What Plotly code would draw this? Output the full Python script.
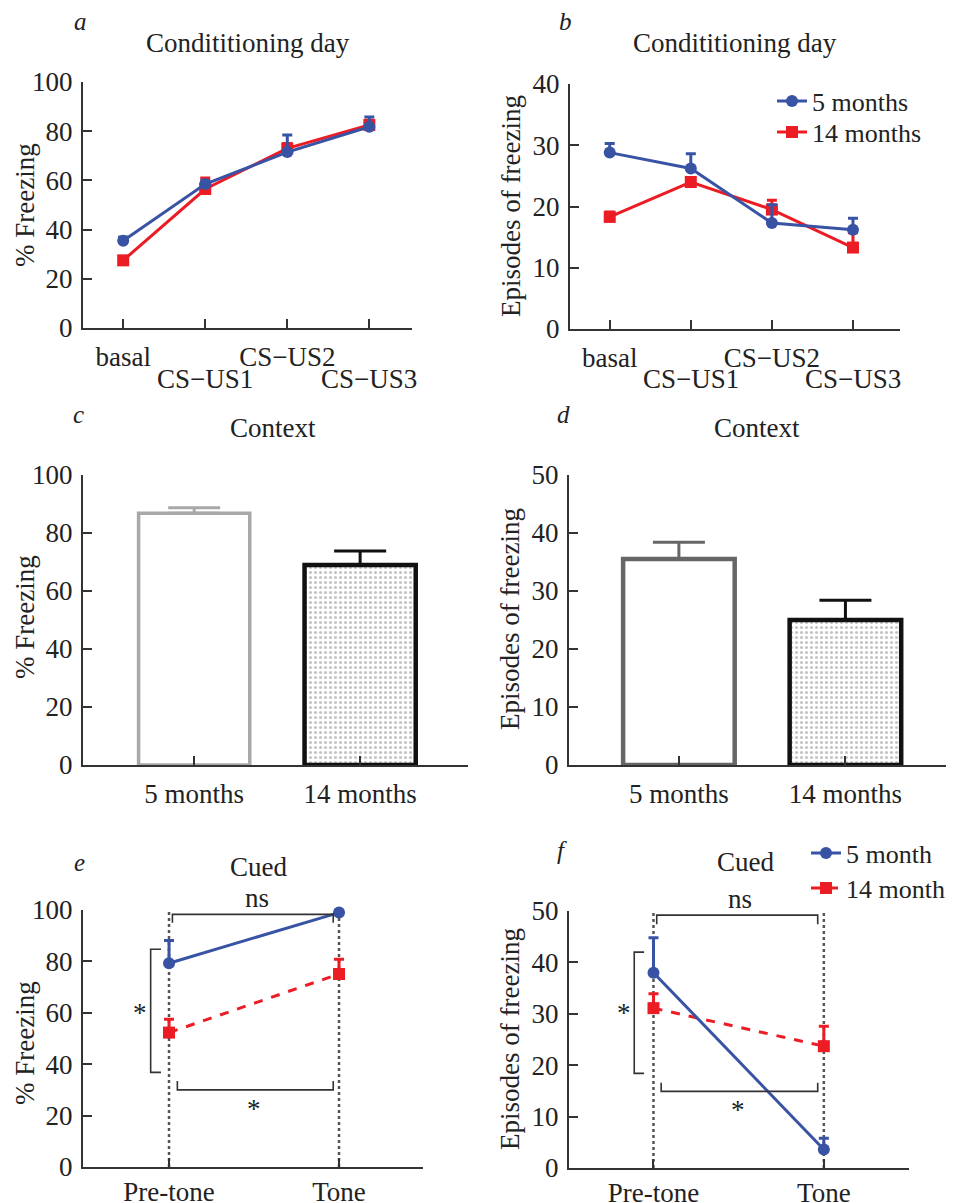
import plotly.graph_objects as go

W, H = 954, 1203          # reference canvas
OFF = 8                   # page body margin in the browser
FW, FH = W - OFF, H - OFF # figure size so it fits in the window
FONT = "Liberation Serif"
TXT = "#222222"
AX = "#333333"
BLUE = "#3953A4"
RED = "#EC1C24"

# ---------------- data ----------------
cond_cats = ["basal", "CS−US1", "CS−US2", "CS−US3"]
pct_5m = [35.5, 58.5, 71.5, 81.8]
pct_5m_err = [1.5, 1.5, 7.0, 4.0]
pct_14m = [27.5, 56.5, 73.0, 82.5]
pct_14m_err = [1.5, 4.5, 2.0, 2.0]
ep_5m = [28.8, 26.2, 17.3, 16.2]
ep_5m_err = [1.5, 2.4, 3.0, 1.9]
ep_14m = [18.3, 24.0, 19.5, 13.3]
ep_14m_err = [0.8, 0.5, 1.5, 2.4]

ctx_groups = ["5 months", "14 months"]
ctx_pct = [86.8, 69.0]
ctx_pct_err = [1.9, 4.8]
ctx_ep = [35.5, 25.0]
ctx_ep_err = [2.9, 3.4]

cued_cats = ["Pre-tone", "Tone"]
cued_pct_5m = [79.3, 99.0]
cued_pct_5m_err = [8.8, 0.0]
cued_pct_14m = [52.3, 75.1]
cued_pct_14m_err = [5.2, 5.7]
cued_ep_5m = [38.0, 3.6]
cued_ep_5m_err = [6.8, 2.2]
cued_ep_14m = [31.1, 23.7]
cued_ep_14m_err = [2.8, 3.9]


def px(x):
    return (x - OFF) / FW


def py(y):
    return 1 - (y - OFF) / FH


def err(vals, color, width=5):
    return dict(type="data", array=vals, arrayminus=[0] * len(vals), symmetric=False,
                color=color, thickness=3, width=width)


fig = go.Figure()


def line_trace(x, y, e, color, symbol, name, xa, ya, dash="solid", legend=None):
    fig.add_trace(go.Scatter(
        x=x, y=y, mode="lines+markers", name=name,
        line=dict(color=color, width=3, dash=dash),
        marker=dict(color=color, size=12, symbol=symbol),
        error_y=err(e, color), xaxis=xa, yaxis=ya,
        showlegend=legend is not None, legend=legend if legend else "legend",
        cliponaxis=False))


# Panel a
line_trace(cond_cats, pct_14m, pct_14m_err, RED, "square", "14 months", "x", "y")
line_trace(cond_cats, pct_5m, pct_5m_err, BLUE, "circle", "5 months", "x", "y")
# Panel b
line_trace(cond_cats, ep_14m, ep_14m_err, RED, "square", "14 months", "x2", "y2", legend="legend3")
line_trace(cond_cats, ep_5m, ep_5m_err, BLUE, "circle", "5 months", "x2", "y2", legend="legend")

# Panels c, d (bars)
bar_styles_c = [
    dict(line="#A8A8A8", lw=3.5, shape=""),
    dict(line="#111111", lw=4.5, shape="."),
]
bar_styles_d = [
    dict(line="#666666", lw=4.5, shape=""),
    dict(line="#111111", lw=4.5, shape="."),
]
for vals, errs, xa, ya, styles in [(ctx_pct, ctx_pct_err, "x3", "y3", bar_styles_c),
                                   (ctx_ep, ctx_ep_err, "x4", "y4", bar_styles_d)]:
    for i, g in enumerate(ctx_groups):
        st = styles[i]
        fig.add_trace(go.Bar(
            x=[g], y=[vals[i]], width=0.67, xaxis=xa, yaxis=ya, showlegend=False,
            marker=dict(color="white", line=dict(color=st["line"], width=st["lw"]),
                        pattern=dict(shape=st["shape"], fgcolor="#888888", bgcolor="white",
                                     size=5, solidity=0.3)),
            error_y=dict(type="data", array=[errs[i]], arrayminus=[0], symmetric=False,
                         color=st["line"], thickness=3, width=26)))

# Panel e
line_trace(cued_cats, cued_pct_14m, cued_pct_14m_err, RED, "square", "14 month", "x5", "y5", dash="dash")
line_trace(cued_cats, cued_pct_5m, cued_pct_5m_err, BLUE, "circle", "5 month", "x5", "y5")
# Panel f
line_trace(cued_cats, cued_ep_14m, cued_ep_14m_err, RED, "square", "14 month", "x6", "y6",
           dash="dash", legend="legend4")
line_trace(cued_cats, cued_ep_5m, cued_ep_5m_err, BLUE, "circle", "5 month", "x6", "y6",
           legend="legend2")

# ---------------- axes ----------------
TS = 27
tickfont = dict(family=FONT, size=TS, color=TXT)


def xax(dom, rng, anchor, standoff=4, **kw):
    d = dict(domain=[px(dom[0]), px(dom[1])], range=rng, anchor=anchor, showline=True,
             linecolor=AX, linewidth=2, ticks="inside", ticklen=9, tickwidth=2, tickcolor=AX,
             showgrid=False, zeroline=False, tickfont=tickfont, ticklabelstandoff=standoff,
             type="category", automargin=False)
    d.update(kw)
    return d


def yax(dom, rng, dtick, anchor):
    return dict(domain=[py(dom[1]), py(dom[0])], range=rng, dtick=dtick, anchor=anchor,
                showline=True, linecolor=AX, linewidth=2, ticks="inside", ticklen=9,
                tickwidth=2, tickcolor=AX, showgrid=False, zeroline=False,
                tickfont=tickfont, ticklabelstandoff=3, automargin=False)


def leg(x, y):
    return dict(x=px(x), y=py(y), xanchor="left", yanchor="middle",
                font=dict(family=FONT, size=26, color=TXT), bgcolor="rgba(0,0,0,0)",
                itemwidth=30, tracegroupgap=0)


cond_ticktext = [cond_cats[0], "", cond_cats[2], ""]

fig.update_layout(
    width=FW, height=FH, margin=dict(l=0, r=0, t=0, b=0, autoexpand=False),
    paper_bgcolor="white", plot_bgcolor="rgba(0,0,0,0)",
    barmode="overlay",
    font=dict(family=FONT, color=TXT),
    xaxis=xax((83, 412), [-0.49, 3.52], "y", tickvals=cond_cats, ticktext=cond_ticktext),
    yaxis=yax((82, 328), [0, 100], 20, "x"),
    xaxis2=xax((570, 900), [-0.49, 3.58], "y2", tickvals=cond_cats, ticktext=cond_ticktext),
    yaxis2=yax((84, 329), [0, 40], 10, "x2"),
    xaxis3=xax((83, 468), [-0.67, 1.65], "y3"),
    yaxis3=yax((475, 765), [0, 100], 20, "x3"),
    xaxis4=xax((569, 952), [-0.66, 1.64], "y4"),
    yaxis4=yax((475, 765), [0, 50], 10, "x4"),
    xaxis5=xax((83, 423), [-0.506, 1.494], "y5", standoff=0),
    yaxis5=yax((910, 1167), [0, 100], 20, "x5"),
    xaxis6=xax((569, 909), [-0.496, 1.5], "y6", standoff=0),
    yaxis6=yax((911, 1168), [0, 50], 10, "x6"),
    legend=leg(772, 101),
    legend3=leg(772, 132),
    legend2=leg(806, 853),
    legend4=leg(806, 888),
)

# ---------------- text annotations ----------------
ann = []


def text(x, y, s, size=27, angle=0, italic=False):
    ann.append(dict(x=px(x), y=py(y), xref="paper", yref="paper", text=f"<i>{s}</i>" if italic else s,
                    showarrow=False, xanchor="center", yanchor="middle", textangle=angle,
                    font=dict(family=FONT, size=size, color=TXT)))


# panel letters
for lx, ly, l in [(80, 22, "a"), (565, 22, "b"), (78, 415, "c"), (563, 415, "d"), (79, 862, "e"), (562, 850, "f")]:
    text(lx, ly, l, size=25, italic=True)
# panel titles
text(248, 43, "Condititioning day")
text(735, 43, "Condititioning day")
text(273, 428, "Context")
text(757, 428, "Context")
text(258, 867, "Cued")
text(745, 862, "Cued")
# y-axis titles
text(25, 205, "% Freezing", angle=-90)
text(511, 206, "Episodes of freezing", angle=-90)
text(25, 617, "% Freezing", angle=-90)
text(510, 619, "Episodes of freezing", angle=-90)
text(25, 1043, "% Freezing", angle=-90)
text(510, 1039, "Episodes of freezing", angle=-90)
# "ns" labels above the brackets
text(257, 898, "ns", size=TS)
text(740, 899, "ns", size=TS)

# staggered second-row category labels (panels a, b)
for xa in ("x", "x2"):
    for i in (1, 3):
        ann.append(dict(x=cond_cats[i], y=py(379), xref=xa, yref="paper", text=cond_cats[i],
                        showarrow=False, xanchor="center", yanchor="middle",
                        font=dict(family=FONT, size=TS, color=TXT)))

# significance stars (panels e, f)
for xa, ya, items in [
    ("x5", "y5", [(-0.17, 60, "*"), (0.5, 22.6, "*")]),
    ("x6", "y6", [(-0.176, 30.1, "*"), (0.494, 11.2, "*")]),
]:
    for x, y, s in items:
        ann.append(dict(x=x, y=y, xref=xa, yref=ya, text=s, showarrow=False,
                        xanchor="center", yanchor="middle",
                        font=dict(family=FONT, size=TS, color=TXT)))
fig.update_layout(annotations=ann)

# ---------------- shapes: dotted guides and brackets ----------------
shapes = []
for xa, ya, top in [("x5", "y5", 100.8), ("x6", "y6", 50.2)]:
    for i in range(len(cued_cats)):
        shapes.append(dict(type="line", xref=xa, yref=ya, x0=i, x1=i, y0=0, y1=top,
                           line=dict(color="#555555", width=2.5, dash="dot"), layer="below"))

brackets = {
    ("x5", "y5"): ["M 0.02,95 L 0.02,98.3 L 0.966,98.3 L 0.966,95",
                   "M -0.047,84.7 L -0.108,84.7 L -0.108,36.8 L -0.047,36.8",
                   "M 0.049,33.5 L 0.049,30 L 0.966,30 L 0.966,33.5"],
    ("x6", "y6"): ["M 0.019,47.4 L 0.019,49.2 L 0.964,49.2 L 0.964,47.4",
                   "M -0.055,42 L -0.113,42 L -0.113,18.4 L -0.055,18.4",
                   "M 0.045,16.6 L 0.045,14.9 L 0.964,14.9 L 0.964,16.6"],
}
for (xa, ya), paths in brackets.items():
    for p in paths:
        shapes.append(dict(type="path", xref=xa, yref=ya, path=p,
                           line=dict(color="#333333", width=1.6)))
fig.update_layout(shapes=shapes)

fig.write_html("out.html")
